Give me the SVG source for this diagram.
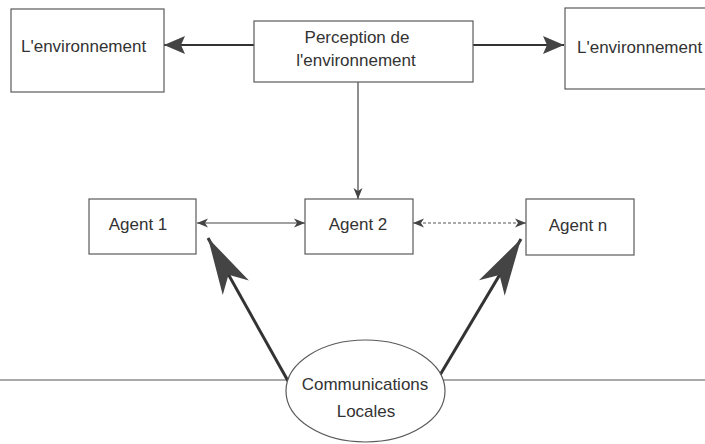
<svg xmlns="http://www.w3.org/2000/svg" width="705" height="444" viewBox="0 0 705 444">
  <style>
    .box { fill: #ffffff; stroke: #5a5a5a; stroke-width: 1.2; }
    .lbl { font-family: "Liberation Sans", Arial, sans-serif; font-size: 17px; fill: #333333; }
    .thick { stroke: #333333; stroke-width: 2.2; fill: none; }
    .thin { stroke: #444444; stroke-width: 1.2; fill: none; }
    .dash { stroke: #555555; stroke-width: 1.2; fill: none; stroke-dasharray: 3 2; }
    .big { stroke: #333333; stroke-width: 3; fill: none; }
    .rule { stroke: #555555; stroke-width: 1.2; fill: none; }
    .head { fill: #444444; stroke: none; }
  </style>
  <defs>
    <marker id="midHead" markerUnits="userSpaceOnUse" orient="auto" refX="0" refY="0" overflow="visible">
      <path class="head" d="M0,0 L-21,-9 L-17,0 L-21,9 Z"/>
    </marker>
    <marker id="hugeHead" markerUnits="userSpaceOnUse" orient="auto" refX="0" refY="0" overflow="visible">
      <path class="head" d="M0,0 L-57,-15 L-42,0 L-57,15 Z"/>
    </marker>
    <marker id="smallHead" markerUnits="userSpaceOnUse" orient="auto-start-reverse" refX="0" refY="0" overflow="visible">
      <path class="head" d="M0,0 L-11,-4.5 L-8,0 L-11,4.5 Z"/>
    </marker>
  </defs>
  <rect width="705" height="444" fill="#ffffff"/>

  <g id="baseline-rule">
    <line class="rule" x1="0" y1="380" x2="705" y2="380"/>
  </g>

  <g id="connectors">
    <line class="thick" x1="254" y1="45" x2="164" y2="45" marker-end="url(#midHead)"/>
    <line class="thick" x1="473" y1="45" x2="564" y2="45" marker-end="url(#midHead)"/>
    <line class="thin" x1="358" y1="82" x2="358" y2="199" marker-end="url(#smallHead)"/>
    <line class="thin" x1="197" y1="223" x2="305" y2="223" marker-start="url(#smallHead)" marker-end="url(#smallHead)"/>
    <line class="dash" x1="413" y1="223" x2="526" y2="223" marker-start="url(#smallHead)" marker-end="url(#smallHead)"/>
    <line class="big" x1="288" y1="381" x2="208" y2="238" marker-end="url(#hugeHead)"/>
    <line class="big" x1="440" y1="375" x2="521" y2="239" marker-end="url(#hugeHead)"/>
  </g>

  <g id="env-left">
    <rect class="box" x="11" y="9" width="153" height="83"/>
    <text class="lbl" x="21" y="52">L'environnement</text>
  </g>

  <g id="perception">
    <rect class="box" x="254" y="21" width="219" height="61"/>
    <text class="lbl" x="357" y="43" text-anchor="middle">Perception de</text>
    <text class="lbl" x="356" y="66" text-anchor="middle">l'environnement</text>
  </g>

  <g id="env-right">
    <rect class="box" x="565" y="8" width="150" height="81"/>
    <text class="lbl" x="577" y="53">L'environnement</text>
  </g>

  <g id="agent1">
    <rect class="box" x="89" y="199" width="107" height="55"/>
    <text class="lbl" x="138" y="230" text-anchor="middle">Agent 1</text>
  </g>

  <g id="agent2">
    <rect class="box" x="305" y="199" width="108" height="55"/>
    <text class="lbl" x="358" y="230" text-anchor="middle">Agent 2</text>
  </g>

  <g id="agentn">
    <rect class="box" x="526" y="199" width="108" height="56"/>
    <text class="lbl" x="578" y="231" text-anchor="middle">Agent n</text>
  </g>

  <g id="communications">
    <ellipse class="box" cx="365.5" cy="391" rx="79.5" ry="51"/>
    <text class="lbl" x="365" y="390" text-anchor="middle">Communications</text>
    <text class="lbl" x="366" y="417" text-anchor="middle">Locales</text>
  </g>
</svg>
